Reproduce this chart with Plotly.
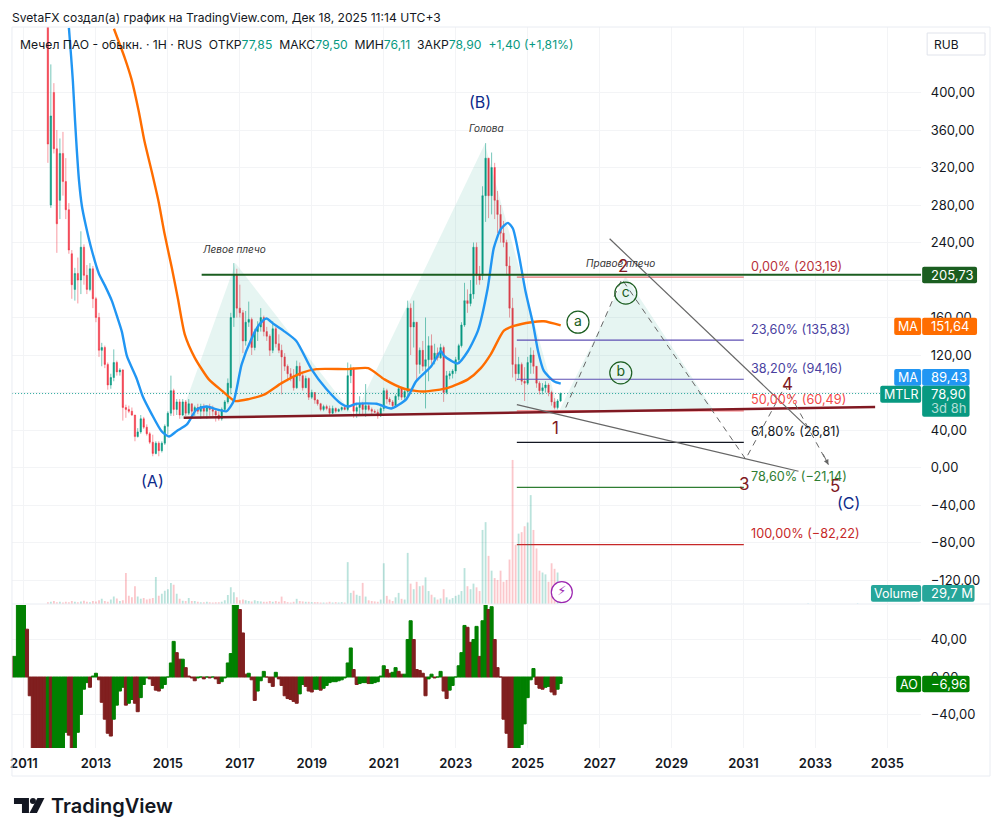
import pandas as pd
import plotly.graph_objects as go

FONT = "Inter"
INK = "#131722"
UP = "#089981"
DOWN = "#F23645"
NAVY = "#0D2A8A"
MAROON = "#801922"
DARK_GREEN = "#1B5E20"

opens = [620,280,400,340,285,335,305,275,228,190,207,200,235,205,190,212,180,160,125,128,110,88,96,112,102,104,64,62,60,56,33,38,52,43,36,27,15,26,18,26,44,58,82,
         62,70,56,70,58,68,60,64,60,65,60,64,62,60,56,52,62,70,85,160,205,170,165,135,155,158,128,145,150,160,145,140,125,148,132,125,118,108,100,96,85,108,98,85,95,75,80,72,68,62,65,63,58,63,60,62,64,62,98,105,60,64,68,62,66,62,60,59,55,63,82,73,70,66,76,84,75,81,170,150,155,110,125,108,115,130,115,122,117,128,80,98,100,103,115,130,152,178,175,185,235,205,205,290,330,290,320,285,270,250,240,215,170,110,100,110,92,90,112,120,108,90,82,85,88,80,70,64,71]
highs = [700,430,410,360,351,358,330,282,232,213,224,252,238,216,218,215,182,165,133,130,112,100,126,114,106,105,67,66,64,56,42,56,54,46,38,35,28,28,28,46,60,98,84,
         73,73,73,72,73,68,66,68,68,68,66,68,66,63,60,64,72,95,165,218,212,195,168,167,177,160,148,156,170,162,150,142,156,150,142,131,122,110,106,105,114,112,100,98,96,83,80,73,69,67,67,66,66,64,63,65,66,112,110,107,68,76,70,89,68,64,62,62,65,85,84,75,72,78,87,84,83,178,175,178,155,128,135,160,140,142,132,128,132,130,103,103,105,118,132,155,197,190,200,240,240,215,300,346,330,336,325,295,280,263,243,225,181,128,118,112,107,118,128,125,108,92,90,92,90,82,74,73,80]
lows = [325,277,335,229,265,290,265,228,180,178,175,185,195,185,188,170,155,118,108,106,83,84,92,98,98,50,53,58,55,28,32,36,41,34,25,12,14,12,16,24,35,55,55,
        56,52,55,55,56,52,55,57,52,54,52,55,55,49,50,50,60,68,78,150,160,160,122,130,150,120,125,135,145,140,135,119,122,128,122,78,103,92,92,82,84,92,82,85,72,73,68,66,60,60,61,55,57,58,59,60,61,60,90,53,53,55,56,54,60,57,58,52,54,60,68,67,64,66,72,72,72,75,120,128,92,100,103,63,92,110,110,114,116,70,78,94,95,100,113,128,150,165,172,180,195,195,200,262,266,270,265,250,240,235,205,160,96,92,95,88,71,88,100,100,85,78,78,80,76,66,62,62,70]
closes = [345,375,340,260,335,305,275,232,195,207,200,235,205,190,212,180,160,125,128,110,88,96,112,102,104,64,62,60,56,33,38,52,43,36,27,15,26,18,26,44,58,82,62,
          70,56,70,58,68,60,64,60,65,60,64,62,60,56,52,62,70,90,160,205,170,165,135,155,158,128,145,150,160,145,140,125,148,132,125,118,108,100,96,85,108,98,85,95,75,80,72,68,62,65,63,58,63,60,62,64,62,98,105,60,64,68,62,66,62,60,59,55,63,82,73,70,66,76,84,75,81,170,150,155,110,125,108,115,130,115,122,117,128,80,98,100,103,115,130,152,178,175,185,235,205,200,290,330,290,320,285,270,250,240,215,170,110,100,110,92,90,112,120,108,90,82,85,88,80,70,64,71,78.9]
volumes = [5,6,8,5,6,4,6,5,8,6,5,7,9,6,5,8,7,10,14,8,6,12,20,15,8,10,
           84,22,18,48,20,14,16,12,14,16,73,22,28,36,40,57,52,28,14,9,8,16,8,8,6,5,5,6,5,4,5,5,6,10,24,45,32,18,10,12,10,8,7,10,8,7,6,6,8,6,8,6,20,8,5,4,6,14,8,7,6,6,5,5,5,4,4,4,6,4,5,4,5,4,
           113,30,36,25,22,57,20,10,8,7,6,12,110,22,12,8,18,30,14,12,138,55,40,60,48,50,72,35,25,18,12,15,40,18,12,16,22,25,35,97,48,40,55,45,35,200,221,130,90,70,65,90,60,65,120,389,160,190,194,210,220,294,200,150,90,85,80,60,110,95,85,29.7]
ao_values = [10,42,22,22,90,90,90,51,-20,-80,-85,-90,-95,-100,-98,-100,-95,-90,-85,-78,-59,-62,-80,-78,-59,-40,-13,-6,-11,1,4,-3,-27,-45,-60,-63,-45,-30,-15,-11,-30,-28,-24,-28,-37,-22,-8,-1,-2,-9,-14,-15,-12,-8,0,15,38,26,19,19,10,1,-1,-4,-1,0,-2,0,-1,0,-2,-7,-5,-1,15,25,80,85,72,47,3,4,-3,-25,-15,-4,6,0,-6,-10,5,-2,-9,-20,-23,-24,-26,-28,-18,-8,-10,-15,-16,-13,-13,-14,-12,-9,-6,-5,-5,-4,-3,-1,15,31,8,-8,-7,-6,-6,-7,-7,-6,-5,1,12,8,4,5,10,6,3,3,40,60,40,8,7,4,-20,-2,3,-1,0,6,-15,-23,-14,-9,0,12,26,55,53,37,40,54,22,60,85,72,75,40,10,0,-45,-60,-78,-95,-90,-85,-72,-50,-22,-3,9,-8,-12,-13,-11,-10,-16,-19,-13,-6.96]

blue_ma_years = [2012.25,2012.31,2012.36,2012.42,2012.47,2012.53,2012.61,2012.72,2012.89,2013.08,2013.25,2013.44,2013.58,2013.72,2013.86,2014.13,2014.30,2014.55,2014.82,2015.03,2015.25,2015.53,2015.80,2016.08,2016.36,2016.63,2016.83,2017.05,2017.33,2017.55,2017.74,2017.94,2018.21,2018.57,2018.99,2019.40,2019.82,2020.01,2020.24,2020.80,2021.21,2021.63,2021.90,2022.32,2022.59,2022.68,2022.87,2023.06,2023.34,2023.62,2023.89,2024.06,2024.25,2024.45,2024.59,2024.75,2024.94,2025.15,2025.29,2025.45,2025.73,2025.92]
blue_ma = [469,439,412,370,338,306,279,258,231,207,194,178,162,145,119,95,76,57,39,33,39,46,62,65,62,60,71,110,138,153,159,153,146,135,105,84,68,65,68,68,63,73,92,108,124,119,114,111,124,146,191,234,254,261,255,228,188,153,124,103,92,89.43]
orange_ma_years = [2013.50,2013.80,2013.99,2014.19,2014.35,2014.55,2014.74,2014.91,2015.11,2015.28,2015.47,2015.75,2016.14,2016.50,2016.86,2017.25,2017.69,2018.16,2018.72,2019.13,2020.02,2020.57,2021.02,2021.57,2022.12,2022.79,2023.34,2023.70,2023.98,2024.34,2024.62,2025.10,2025.45,2025.92]
orange_ma = [468,437,414,380,348,316,284,249,213,180,142,117,94,82,71,73,78,90,101,105,105,106,94,84,81,85,94,106,121,146,151,155,156,151.64]

pattern_years = [2015.33,2016.88,2020.18,2023.81,2025.87,2027.72,2030.17]
pattern_prices = [52,218,55,345,60,204,61]
wave_years = [2026.06,2027.62,2031.06,2032.16,2033.36]
wave_prices = [64,201,9,87,3]
fib_names = ["0,00%","23,60%","38,20%","50,00%","61,80%","78,60%","100,00%"]
fib_prices = [203.19,135.83,94.16,60.49,26.81,-21.14,-82.22]
fib_line_colors = ["#E57373","#5E4FB3","#5E4FB3","#F77C80","#131722","#2E7D32","#C62828"]
fib_text_colors = ["#B7303A","#4A3F9F","#4A3F9F","#F44A4A","#131722","#2E7D32","#C62828"]
tick_years = [2011,2013,2015,2017,2019,2021,2023,2025,2027,2029,2031,2033,2035]
price_ticks = [400,360,320,280,240,200,160,120,80,40,0,-40,-80,-120]
price_labels = ["400,00","360,00","320,00","280,00","240,00","","160,00","120,00","","40,00","0,00","−40,00","−80,00","−120,00"]
ao_ticks = [40,0,-40]


def yr(y):
    # decimal year to a timestamp for the date axis
    year = int(y // 1)
    start = pd.Timestamp(year=year, month=1, day=1)
    return start + (pd.Timestamp(year=year + 1, month=1, day=1) - start) * (y - year)


def px(x):
    return x / 1000


def py(y):
    return 1 - y / 837


lengths = {len(opens), len(highs), len(lows), len(closes), len(volumes)}
if len(lengths) != 1:
    raise ValueError(str([len(opens), len(highs), len(lows), len(closes), len(volumes)]))

candle_dates = pd.date_range(end="2025-12-01", periods=len(closes), freq="MS")
ao_dates = pd.date_range(end="2025-12-01", periods=len(ao_values), freq="MS")
ao_colors = ["#008000" if i == 0 or ao_values[i] >= ao_values[i - 1] else "#801F1F" for i in range(len(ao_values))]
volume_colors = ["rgba(8,153,129,0.28)" if c >= o else "rgba(242,54,69,0.28)" for o, c in zip(opens, closes)]

fig = go.Figure()

# pale triangles of the head and shoulders
for a, b, c in [(0, 1, 2), (2, 3, 4), (4, 5, 6)]:
    fig.add_trace(go.Scatter(x=[yr(pattern_years[a]), yr(pattern_years[b]), yr(pattern_years[c])],
                             y=[pattern_prices[a], pattern_prices[b], pattern_prices[c]],
                             fill="toself", fillcolor="rgba(8,153,129,0.10)", mode="none"))

fig.add_trace(go.Scatter(x=[yr(2010.67), yr(2034.8)], y=[78.9, 78.9], mode="lines",
                         line=dict(color="#26A69A", width=1, dash="1px,2px")))
fig.add_trace(go.Candlestick(x=candle_dates, open=opens, high=highs, low=lows, close=closes,
                             increasing=dict(line=dict(color="rgba(8,153,129,0.55)", width=1), fillcolor=UP),
                             decreasing=dict(line=dict(color="rgba(242,54,69,0.5)", width=1), fillcolor=DOWN),
                             whiskerwidth=0))
fig.add_trace(go.Scatter(x=[yr(y) for y in orange_ma_years], y=orange_ma, mode="lines",
                         line=dict(color="#FF6D00", width=2.4, shape="spline", smoothing=0.6)))
fig.add_trace(go.Scatter(x=[yr(y) for y in blue_ma_years], y=blue_ma, mode="lines",
                         line=dict(color="#2196F3", width=2.4, shape="spline", smoothing=0.6)))

# fib levels
for price, color in zip(fib_prices, fib_line_colors):
    fig.add_trace(go.Scatter(x=[yr(2024.70), yr(2031.01)], y=[price, price], mode="lines",
                             line=dict(color=color, width=1.2)))

# neckline, resistance, channel and the dashed wave path
fig.add_trace(go.Scatter(x=[yr(2015.94), yr(2035.94)], y=[205.73, 205.73], mode="lines",
                         line=dict(color=DARK_GREEN, width=2)))
fig.add_trace(go.Scatter(x=[yr(2015.44), yr(2034.66)], y=[53, 64.5], mode="lines",
                         line=dict(color=MAROON, width=2.4)))
fig.add_trace(go.Scatter(x=[yr(2027.28), yr(2032.80)], y=[244, 42], mode="lines",
                         line=dict(color="#666666", width=1.2)))
fig.add_trace(go.Scatter(x=[yr(2024.70), yr(2032.53)], y=[67, -4], mode="lines",
                         line=dict(color="#666666", width=1.2)))
fig.add_trace(go.Scatter(x=[yr(y) for y in wave_years], y=wave_prices, mode="lines",
                         line=dict(color="#666666", width=1, dash="6px,5px")))

# circled a b c sub waves
fig.add_trace(go.Scatter(x=[yr(2026.40), yr(2027.59), yr(2027.73)], y=[155, 101, 186], text=["a", "b", "c"],
                         mode="markers+text", textposition="middle center",
                         textfont=dict(family=FONT, size=14, color=DARK_GREEN),
                         marker=dict(size=22, color="rgba(0,0,0,0)", line=dict(color=DARK_GREEN, width=1.2))))

# clipped by the bottom of the price pane, as in the screenshot
fig.add_trace(go.Scatter(x=[yr(2031.22)], y=[-153], text=["127,00% (−159,25)"], mode="text",
                         textposition="middle right", cliponaxis=True,
                         textfont=dict(family=FONT, size=12.5, color="#00BCD4")))

fig.add_trace(go.Bar(x=candle_dates, y=volumes, width=1.6e9,
                     marker=dict(color=volume_colors, line=dict(width=0)), yaxis="y3"))
fig.add_trace(go.Scatter(x=[yr(2025.95)], y=[32], text=["⚡"], mode="markers+text", yaxis="y3",
                         textposition="middle center",
                         textfont=dict(family="DejaVu Sans", size=13, color="#9C27B0"),
                         marker=dict(size=21, color="white", line=dict(color="#9C27B0", width=1.2))))

fig.add_trace(go.Bar(x=ao_dates, y=ao_values, width=2.7e9,
                     marker=dict(color=ao_colors, line=dict(color=ao_colors, width=1)), xaxis="x2", yaxis="y2"))

x_range = [yr(2010.667), yr(2035.94)]
tick_dates = [pd.Timestamp(year=y, month=1, day=1) for y in tick_years]
GRID = "#F3F4F6"

fig.update_layout(
    width=1000, height=837, margin=dict(l=0, r=0, t=0, b=0),
    paper_bgcolor="white", plot_bgcolor="white", showlegend=False, separators=", ",
    font=dict(family=FONT, size=13, color=INK), hovermode=False,
    xaxis=dict(domain=[px(10), px(921)], range=x_range, anchor="y", type="date", tickvals=tick_dates,
               showticklabels=False, showgrid=True, gridcolor=GRID, zeroline=False, rangeslider=dict(visible=False)),
    xaxis2=dict(domain=[px(10), px(921)], range=x_range, anchor="y2", type="date", matches="x", tickvals=tick_dates,
                ticktext=[str(y) for y in tick_years], showgrid=True, gridcolor=GRID, zeroline=False,
                ticks="outside", ticklen=3, tickcolor="rgba(0,0,0,0)",
                tickfont=dict(family=FONT, size=13, color=INK, weight=600)),
    yaxis=dict(domain=[py(604), py(27)], range=[-145.6, 469.9], anchor="x", side="right", tickvals=price_ticks,
               ticktext=price_labels, showgrid=True, gridcolor=GRID, zeroline=False, ticks="outside", ticklen=6,
               tickcolor="rgba(0,0,0,0)", tickfont=dict(family=FONT, size=13, color=INK)),
    yaxis2=dict(domain=[py(748), py(605)], range=[-75.73, 76.8], anchor="x2", side="right", tickvals=ao_ticks,
                tickformat=".2f", showgrid=True, gridcolor=GRID, zeroline=False, ticks="outside", ticklen=6,
                tickcolor="rgba(0,0,0,0)", tickfont=dict(family=FONT, size=13, color=INK)),
    yaxis3=dict(domain=[py(604), py(27)], range=[0, 1558], overlaying="y", anchor="x", visible=False),
)

# frame and pane divider
for x0, y0, x1, y1 in [(10, 27, 990, 27), (10, 27, 10, 776), (990, 27, 990, 776), (10, 776, 990, 776), (10, 604, 990, 604)]:
    fig.add_shape(type="line", xref="paper", yref="paper", x0=px(x0), x1=px(x1), y0=py(y0), y1=py(y1),
                  line=dict(color="#E9ECF2", width=1), layer="above")


def tag(x0, x1, y0, y1, color):
    # small rounded label box on the price scale
    r = 2
    path = (f"M {px(x0 + r)} {py(y0)} L {px(x1 - r)} {py(y0)} Q {px(x1)} {py(y0)} {px(x1)} {py(y0 + r)} "
            f"L {px(x1)} {py(y1 - r)} Q {px(x1)} {py(y1)} {px(x1 - r)} {py(y1)} L {px(x0 + r)} {py(y1)} "
            f"Q {px(x0)} {py(y1)} {px(x0)} {py(y1 - r)} L {px(x0)} {py(y0 + r)} Q {px(x0)} {py(y0)} {px(x0 + r)} {py(y0)} Z")
    fig.add_shape(type="path", path=path, xref="paper", yref="paper", fillcolor=color, line=dict(width=0), layer="above")


def text(x, y, s, size=13, color=INK, anchor="center", italic=False, weight=None, family=FONT):
    fig.add_annotation(x=px(x), y=py(y), xref="paper", yref="paper", text=s, showarrow=False, xanchor=anchor,
                       yanchor="middle", align="left", borderpad=0, borderwidth=0,
                       font=dict(family=family, size=size, color=color, style="italic" if italic else "normal",
                                 weight=weight))


for x0, x1, y0, y1, color, s in [(922, 977, 266.7, 283.3, DARK_GREEN, "205,73"),
                                 (922, 977, 317.7, 335, "#FF6D00", "151,64"),
                                 (922, 969.5, 369, 385.7, "#2196F3", "89,43"),
                                 (922, 969.5, 385.7, 416.7, UP, ""),
                                 (922, 974.5, 585, 601.7, "#26A69A", "29,7 M"),
                                 (922, 969.5, 675.7, 692.3, "#008000", "−6,96")]:
    tag(x0, x1, y0, y1, color)
    if s:
        text(931, (y0 + y1) / 2, s, color="white", anchor="left")
for x0, y0, y1, color, s in [(894, 317.7, 335, "#FF6D00", "MA"), (894, 369, 385.7, "#2196F3", "MA"),
                             (880, 385.7, 402.7, UP, "MTLR"), (870.7, 585, 601.7, "#26A69A", "Volume"),
                             (896, 675.7, 692.3, "#008000", "AO")]:
    tag(x0, 921, y0, y1, color)
    text((x0 + 921) / 2, (y0 + y1) / 2, s, size=12.5, color="white")
text(931, 393.5, "78,90", color="white", anchor="left")
text(931, 407.5, "3d 8h", color="rgba(255,255,255,0.7)", anchor="left")

# currency button
fig.add_shape(type="rect", xref="paper", yref="paper", x0=px(927), x1=px(985), y0=py(33), y1=py(55),
              fillcolor="white", line=dict(color="#E0E3EB", width=1), layer="above")
text(946, 44, "RUB", size=12)

text(10, 17, "SvetaFX создал(а) график на TradingView.com, Дек 18, 2025 11:14 UTC+3", size=12.1, anchor="left")
up = f"<span style='color:{UP}'>"
text(18, 45, f"Мечел ПАО - обыкн. · 1H · RUS&nbsp;&nbsp;ОТКР{up}77,85</span>&nbsp;&nbsp;МАКС{up}79,50</span>"
             f"&nbsp;&nbsp;МИН{up}76,11</span>&nbsp;&nbsp;ЗАКР{up}78,90</span>&nbsp;&nbsp;{up}+1,40 (+1,81%)</span>",
     size=12.2, anchor="left")

for x, y, s in [(479, 102, "(B)"), (151, 481, "(A)"), (848, 503, "(C)")]:
    text(x, y, s, size=16, color=NAVY)
for x, y, s in [(233, 249, "Левое плечо"), (485, 128, "Голова"), (620, 263, "Правое плечо")]:
    text(x, y, s, size=10, color="#333333", italic=True)
for x, y, s in [(622, 266, "2"), (555, 428, "1"), (744, 484, "3"), (787, 384, "4"), (835, 486, "5")]:
    text(x, y, s, size=17, color=MAROON)

for name, price, color in zip(fib_names, fib_prices, fib_text_colors):
    label = f"{name} ({price:.2f})".replace(".", ",").replace("-", "−")
    fig.add_annotation(x=yr(2031.22), y=price, xref="x", yref="y", text=label, showarrow=False, xanchor="left",
                       yanchor="middle", yshift=11, borderpad=0, borderwidth=0,
                       font=dict(family=FONT, size=12.7, color=color))

# arrow head of the wave path
fig.add_annotation(x=yr(wave_years[-1]), y=wave_prices[-1], xref="x", yref="y", ax=-6, ay=-12, text="", showarrow=True,
                   arrowhead=2, arrowwidth=1, arrowcolor="#666666")

# TradingView logo
fig.add_shape(type="path", xref="paper", yref="paper", fillcolor=INK, line=dict(width=0), layer="above",
              path=f"M {px(12)} {py(798)} L {px(27)} {py(798)} L {px(27)} {py(813)} L {px(20)} {py(813)} "
                   f"L {px(20)} {py(804)} L {px(12)} {py(804)} Z")
fig.add_shape(type="circle", xref="paper", yref="paper", fillcolor=INK, line=dict(width=0), layer="above",
              x0=px(28), x1=px(34), y0=py(798), y1=py(804))
fig.add_shape(type="path", xref="paper", yref="paper", fillcolor=INK, line=dict(width=0), layer="above",
              path=f"M {px(35.5)} {py(798)} L {px(42.5)} {py(798)} L {px(35)} {py(813)} L {px(27.5)} {py(813)} Z")
text(49, 806, "TradingView", size=20, anchor="left", weight=600)

fig.write_html("out.html", config=dict(displayModeBar=False), post_script="document.body.style.margin='0';")
